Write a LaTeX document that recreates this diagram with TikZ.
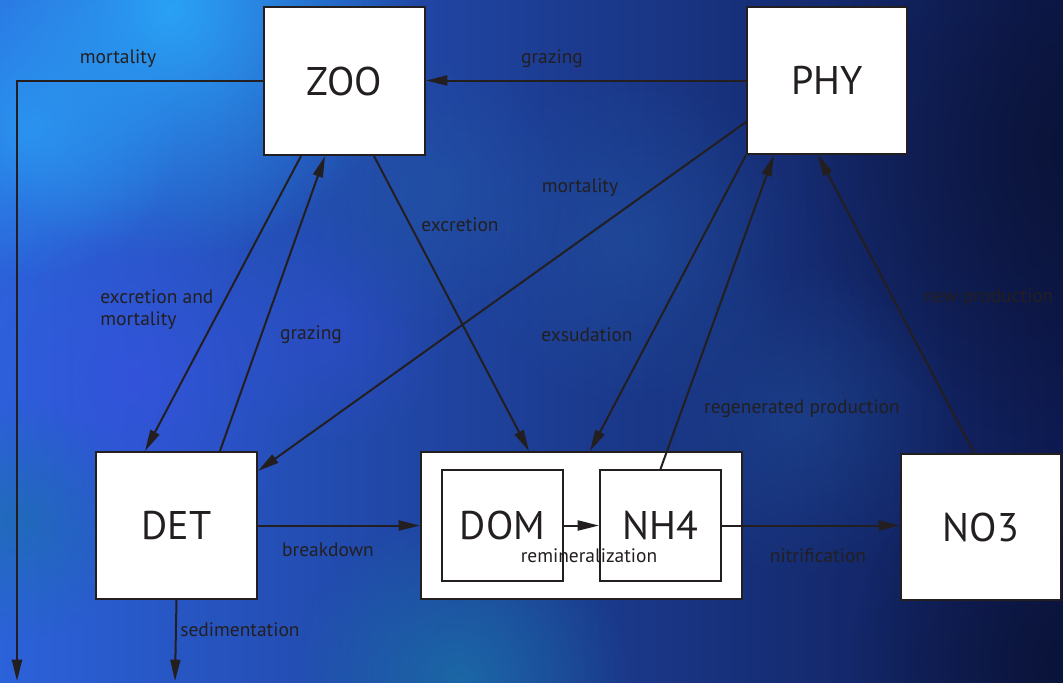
\documentclass[tikz,border=0pt]{standalone}
\usepackage{fontspec}
\setmainfont{PT Sans}
\usetikzlibrary{arrows.meta,fadings,calc}
\definecolor{ink}{HTML}{231F20}
\definecolor{bgL}{HTML}{2C62DA}
\definecolor{bgM}{HTML}{1E44A0}
\definecolor{bgR}{HTML}{0E1A50}
\definecolor{skyA}{HTML}{2AA2F6}
\definecolor{violA}{HTML}{3A50E6}
\definecolor{tealA}{HTML}{1A70A8}
\definecolor{midA}{HTML}{2356A6}
\definecolor{deepA}{HTML}{0A1234}
\tikzfading[name=softblob, inner color=transparent!0, outer color=transparent!100]
\tikzset{
  pool/.style={draw=ink, line width=1.5pt, fill=white, inner sep=0pt,
               font=\fontsize{30}{34}\selectfont, text=ink},
  flux/.style={draw=ink, line width=1.5pt, -{Triangle[length=16pt,width=7.5pt]}},
  lbl/.style={text=ink, font=\fontsize{14.6}{17}\selectfont, inner sep=0pt},
  blob/.style={fill=#1, path fading=softblob}
}
\begin{document}
\begin{tikzpicture}[x=0.75pt, y=-0.75pt]
% ocean backdrop
\useasboundingbox (0,0) rectangle (1063,682);
\shade[left color=bgL, middle color=bgM, right color=bgR] (0,0) rectangle (1063,682);
\begin{scope}
\clip (0,0) rectangle (1063,682);
\fill[blob=skyA] (170,10) circle (250);
\fill[blob=skyA, opacity=0.7] (30,130) circle (150);
\fill[blob=violA, opacity=0.6] (140,380) circle (180);
\fill[blob=violA, opacity=0.35] (330,330) circle (120);
\fill[blob=tealA, opacity=0.8] (460,680) circle (170);
\fill[blob=tealA, opacity=0.6] (15,520) circle (120);
\fill[blob=midA, opacity=0.5] (630,240) circle (170);
\fill[blob=midA, opacity=0.6] (430,190) circle (140);
\fill[blob=midA, opacity=0.4] (800,420) circle (160);
\fill[blob=deepA, opacity=0.9] (1100,150) circle (300);
\fill[blob=deepA, opacity=0.85] (1070,660) circle (220);
\end{scope}

% pools
\node[pool, minimum width=120.75pt, minimum height=111pt] (ZOO) at (344.5,81) {ZOO};
\node[pool, minimum width=120pt, minimum height=110.25pt] (PHY) at (827,80.5) {PHY};
\node[pool, minimum width=120.75pt, minimum height=110.25pt] (DET) at (176.5,525.5) {DET};
\node[pool, minimum width=240.75pt, minimum height=110.25pt] (OUT) at (581.5,525.5) {};
\node[pool, minimum width=90.75pt, minimum height=83.25pt] (DOM) at (502.5,525.5) {DOM};
\node[pool, minimum width=90.75pt, minimum height=83.25pt] (NH4) at (660.5,525.5) {NH4};
\node[pool, minimum width=120pt, minimum height=109.5pt] (NO3) at (981,527) {NO3};

% free ends at the bottom edge
\coordinate (lost) at (17,681);
\coordinate (sink) at (175,681);

% fluxes
\draw[flux] (ZOO.west) -| (lost);
\draw[flux] (PHY.west) -- (PHY.west -| ZOO.east);
\draw[flux] ([xshift=-32.6pt]ZOO.south) -- ([xshift=-23.6pt]DET.north);
\draw[flux] ([xshift=32.6pt]DET.north) -- ([xshift=-14.6pt]ZOO.south);
\draw[flux] ([xshift=22.1pt]ZOO.south) -- ([xshift=-39.4pt]OUT.north);
\draw[flux] ([yshift=-31.1pt]PHY.west) -- ([yshift=40.9pt]DET.east);
\draw[flux] (PHY.south west) -- ([xshift=6.4pt]OUT.north);
\draw[flux] (NH4.north) -- ([xshift=-39.8pt]PHY.south);
\draw[flux] ([xshift=-5.2pt]NO3.north) -- ([xshift=-6.8pt]PHY.south);
\draw[flux] (DET.east) -- (OUT.west);
\draw[flux] (DOM.east) -- (NH4.west);
\draw[flux] (NH4.east) -- (NH4.east -| NO3.west);
\draw[flux] (DET.south) -- (sink);

% flux labels
\node[lbl] (l1) at (118,59) {mortality};
\node[lbl] (l2) at (552,59) {grazing};
\node[lbl] (l3) at (580,188) {mortality};
\node[lbl] (l4) at (460,225) {excretion};
\node[lbl, align=left, anchor=west] (l5) at (100,309.5) {excretion and\\mortality};
\node[lbl] (l6) at (311,335) {grazing};
\node[lbl] (l7) at (587,335) {exsudation};
\node[lbl, anchor=west] (l8) at (923,298) {new production};
\node[lbl] (l9) at (802,409) {regenerated production};
\node[lbl] (l10) at (328,550) {breakdown};
\node[lbl] (l11) at (589,556) {remineralization};
\node[lbl] (l12) at (818,556) {nitrification};
\node[lbl] (l13) at (240,630) {sedimentation};
\end{tikzpicture}
\end{document}
